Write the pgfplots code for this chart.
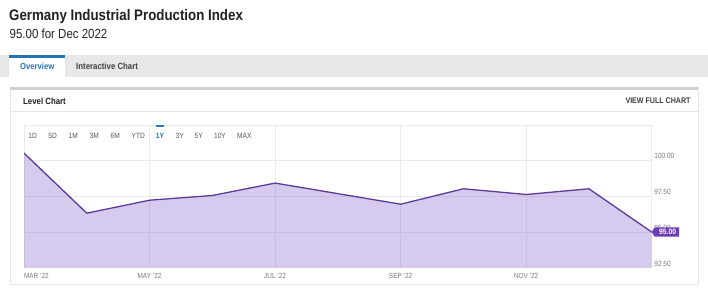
\documentclass[border=0pt]{standalone}
\usepackage{pgfplots}
\pgfplotsset{compat=1.18}
\usepackage{fontspec}
\setmainfont{Liberation Sans}[FakeStretch=0.87]
\definecolor{fillbase}{HTML}{7A55CD}
\definecolor{linec}{HTML}{5B3B98}
\definecolor{tagc}{HTML}{6A3DB5}
\definecolor{gridc}{HTML}{EAEAEA}
\definecolor{tabbg}{HTML}{E8E8E8}
\definecolor{bluec}{HTML}{2473B8}
\definecolor{txtgrey}{HTML}{7A7A7A}
\definecolor{btngrey}{HTML}{555555}
\definecolor{paneltop}{HTML}{D0D0D0}
\definecolor{panelb}{HTML}{E6E6E6}
\pgfplotstableread{
x y
0 100.53
1 96.32
2 97.23
3 97.56
4 98.43
5 97.69
6 96.95
7 98.03
8 97.63
9 98.03
10 95.00
}\datatable
\begin{document}
\begin{tikzpicture}[x=1pt,y=1pt]
\useasboundingbox (0,0) rectangle (708,287);
\fill[white] (0,0) rectangle (708,287);
% header
\node[anchor=base west,inner sep=0pt,font=\fontsize{15.3}{18}\selectfont\bfseries,text=black!87] at (9,266.3) {Germany Industrial Production Index};
\node[anchor=base west,inner sep=0pt,font=\fontsize{13.2}{16}\selectfont,text=black!85] at (9.5,248) {95.00 for Dec 2022};
% tab bar
\fill[tabbg] (0,210) rectangle (708,232);
\fill[white] (9.3,210) rectangle (65,232);
\fill[bluec] (9.3,229.3) rectangle (65,232);
\node[anchor=base west,inner sep=0pt,font=\fontsize{8.8}{10}\selectfont\bfseries,text=bluec] at (20,217.8) {Overview};
\node[anchor=base west,inner sep=0pt,font=\fontsize{9}{10}\selectfont\bfseries,text=black!75] at (76,217.8) {Interactive Chart};
% panel
\fill[white] (10,3) rectangle (698,200);
\draw[panelb,line width=0.8pt] (10,3) rectangle (698,200);
\fill[paneltop] (10,197) rectangle (698,200.3);
\draw[panelb,line width=0.8pt] (10,176) -- (698,176);
\node[anchor=base west,inner sep=0pt,font=\fontsize{9}{10}\selectfont\bfseries,text=black!87] at (23,183) {Level Chart};
\node[anchor=base east,inner sep=0pt,font=\fontsize{8.15}{10}\selectfont\bfseries,text=black!75] at (690.7,183.1) {VIEW FULL CHART};
\begin{axis}[
  at={(24pt,19.3pt)}, anchor=south west,
  scale only axis, width=627.7pt, height=142.7pt,
  xmin=0, xmax=10, ymin=92.5, ymax=102.5,
  xtick={0,2,4,6,8},
  xticklabels={{\makebox[0pt][l]{MAR '22}},{MAY '22},{JUL '22},{SEP '22},{NOV '22}},
  ytick={92.5,95,97.5,100},
  yticklabel pos=right,
  grid=major,
  major grid style={draw=gridc, line width=0.6pt},
  axis line style={draw=gridc, line width=0.6pt},
  major tick length=0pt,
  tick style={draw=none},
  /pgf/number format/assume math mode=true,
  yticklabel style={anchor=base west, inner sep=0pt, xshift=2.5pt, yshift=1.7pt,
    font=\fontsize{7.5}{9}\selectfont, text=txtgrey,
    /pgf/number format/fixed, /pgf/number format/fixed zerofill, /pgf/number format/precision=2},
  xticklabel style={anchor=base, inner sep=0pt, yshift=-11pt,
    font=\fontsize{7.4}{9}\selectfont, text=txtgrey},
]
\addplot[draw=none, fill=fillbase, fill opacity=0.3] table[x=x,y=y] {\datatable} \closedcycle;
\addplot[linec, line width=1.3pt, line join=round] table[x=x,y=y] {\datatable};
\coordinate (tag) at (axis cs:10,95);
\end{axis}
% range buttons
\foreach \lx/\lt in {32.7/1D,52.7/5D,73.3/1M,94.3/3M,115.3/6M,138.3/YTD,179.7/3Y,198.7/5Y,220/10Y,244.3/MAX}{
  \node[anchor=base,inner sep=0pt,font=\fontsize{7.6}{9}\selectfont,text=btngrey] at (\lx,148.6) {\lt};
}
\node[anchor=base,inner sep=0pt,font=\fontsize{7.6}{9}\selectfont\bfseries,text=bluec] at (160,148.6) {1Y};
\fill[bluec] (155.7,160.3) rectangle (164.3,162.3);
% value tag
\fill[tagc] (tag) -- ++(3,4.7) -- ++(24.5,0) -- ++(0,-9.4) -- ++(-24.5,0) -- cycle;
\path (tag) ++(16,0) node[anchor=center,inner sep=0pt,text=white,font=\fontsize{7.8}{9}\selectfont\bfseries] {95.00};
\end{tikzpicture}
\end{document}
